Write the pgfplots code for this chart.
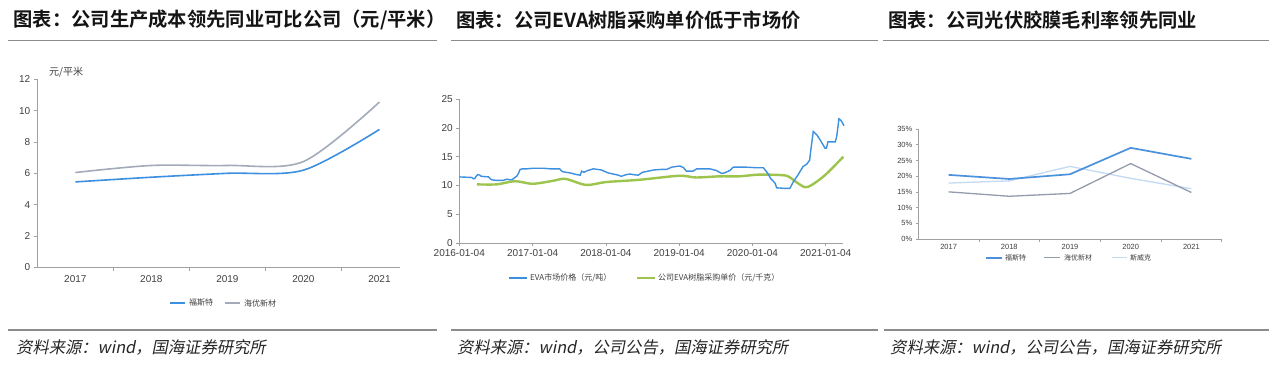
\documentclass[border=0pt]{standalone}
\usepackage{fontspec}
\usepackage{pgfplots}
\pgfplotsset{compat=1.18}
\setmainfont{Liberation Sans}
\newfontfamily\cjk{Noto Sans CJK SC}
\newfontfamily\cjkb{Noto Sans CJK SC Bold}
\newfontfamily\cjkit[FakeSlant=0.2]{Noto Sans CJK SC}
\definecolor{bl}{HTML}{3D8FE0}
\definecolor{gr}{HTML}{A3AABA}
\definecolor{grn}{HTML}{9DC44D}
\definecolor{bl3}{HTML}{4B91DC}
\definecolor{gr3}{HTML}{939CAD}
\definecolor{lb3}{HTML}{C3DAF2}
\definecolor{axc}{HTML}{A0A0A0}
\definecolor{txt}{HTML}{404040}
\definecolor{rule}{HTML}{8C8C8C}
\pgfplotsset{
  base/.style={
    scale only axis, clip=false,
    axis lines=left, axis line style={-, draw=axc, line width=0.6pt},
    tick style={draw=axc, line width=0.6pt},
    tick align=outside, major tick length=3pt,
    /pgf/number format/assume math mode=true,
    ticklabel style={text=txt},
    anchor=south west,
  }
}
\begin{document}
\begin{tikzpicture}[x=1pt,y=1pt]
\useasboundingbox (0pt,0pt) rectangle (1269pt,365pt);
\fill[white] (0pt,0pt) rectangle (1269pt,365pt);
% titles
\node[anchor=west,inner sep=0pt,font=\cjkb\fontsize{19.3}{21}\selectfont,text=black!92] at (13.3pt,345pt) {图表：公司生产成本领先同业可比公司（元/平米）};
\node[anchor=west,inner sep=0pt,font=\cjkb\fontsize{19.3}{21}\selectfont,text=black!92] at (456pt,345pt) {图表：公司EVA树脂采购单价低于市场价};
\node[anchor=west,inner sep=0pt,font=\cjkb\fontsize{19.3}{21}\selectfont,text=black!92] at (888pt,345pt) {图表：公司光伏胶膜毛利率领先同业};
\draw[rule,line width=1.3pt] (8pt,324.3pt) -- (437pt,324.3pt);
\draw[rule,line width=1.3pt] (451pt,324.3pt) -- (878pt,324.3pt);
\draw[rule,line width=1.3pt] (883pt,324.3pt) -- (1269pt,324.3pt);
% bottom rules and sources
\draw[rule,line width=1.8pt] (8pt,35pt) -- (437pt,35pt);
\draw[rule,line width=1.8pt] (451pt,35pt) -- (878pt,35pt);
\draw[rule,line width=1.8pt] (884pt,35pt) -- (1269pt,35pt);
\node[anchor=west,inner sep=0pt,font=\cjkit\fontsize{16.3}{18}\selectfont,text=black!85] at (16pt,18pt) {资料来源：wind，国海证券研究所};
\node[anchor=west,inner sep=0pt,font=\cjkit\fontsize{16.3}{18}\selectfont,text=black!85] at (457pt,18pt) {资料来源：wind，公司公告，国海证券研究所};
\node[anchor=west,inner sep=0pt,font=\cjkit\fontsize{16.3}{18}\selectfont,text=black!85] at (890pt,18pt) {资料来源：wind，公司公告，国海证券研究所};

% ---------- panel 1
\begin{axis}[base, at={(37.3pt,97.7pt)}, width=362.7pt, height=188pt,
  xmin=-0.5, xmax=4.27, ymin=0, ymax=12,
  ytick={0,2,...,12},
  xtick={0.5,1.5,2.5,3.5}, xticklabels={},
  major tick length=3.5pt,
  extra x ticks={0,1,2,3,4},
  extra x tick labels={2017,2018,2019,2020,2021},
  extra x tick style={major tick length=0pt, tick label style={yshift=-5pt}},
  ticklabel style={font=\fontsize{10}{12}\selectfont},
]
\addplot[bl, line width=1.6pt, smooth] coordinates {(0,5.45) (1,5.75) (2,6.0) (3,6.2) (4,8.8)};
\addplot[gr, line width=1.6pt, smooth] coordinates {(0,6.05) (1,6.5) (2,6.5) (3,6.75) (4,10.55)};
\end{axis}
\node[anchor=west,inner sep=0pt,font=\cjk\fontsize{10}{12}\selectfont,text=txt] at (49pt,293pt) {元/平米};
\draw[bl,line width=1.6pt] (170pt,62pt) -- (185pt,62pt);
\node[anchor=west,inner sep=0pt,font=\cjk\fontsize{8}{10}\selectfont,text=txt] at (189pt,62pt) {福斯特};
\draw[gr,line width=1.6pt] (225pt,62pt) -- (240pt,62pt);
\node[anchor=west,inner sep=0pt,font=\cjk\fontsize{8}{10}\selectfont,text=txt] at (244pt,62pt) {海优新材};

% ---------- panel 2
\begin{axis}[base, at={(459.3pt,122pt)}, width=384pt, height=143.7pt,
  xmin=0, xmax=5.24, ymin=0, ymax=25,
  ytick={0,5,...,25},
  xtick={0,1,2,3,4,5},
  xticklabels={2016-01-04,2017-01-04,2018-01-04,2019-01-04,2020-01-04,2021-01-04},
  ticklabel style={font=\fontsize{10}{12}\selectfont},
]
\addplot[grn, line width=2.4pt, smooth] coordinates {(0.24,10.2) (0.51,10.2) (0.76,10.75) (1.0,10.3) (1.27,10.8) (1.45,11.15) (1.73,10.1) (2.0,10.6) (2.46,11.0) (3.0,11.7) (3.23,11.4) (3.55,11.6) (3.82,11.6) (4.09,11.9) (4.41,11.8) (4.5,11.5) (4.62,10.4) (4.72,9.7) (4.81,10.1) (4.99,11.8) (5.24,15.0)};
\addplot[bl, line width=1.4pt] coordinates {(0.00,11.5) (0.17,11.4) (0.19,11.2) (0.21,11.2) (0.23,11.6) (0.25,11.9) (0.28,11.8) (0.30,11.6) (0.40,11.5) (0.42,11.2) (0.44,11.0) (0.50,10.9) (0.60,10.9) (0.65,11.1) (0.69,11.0) (0.72,11.0) (0.75,11.3) (0.79,11.7) (0.81,12.2) (0.83,12.8) (0.86,12.9) (0.92,12.9) (1.00,13.0) (1.15,13.0) (1.25,12.9) (1.37,12.9) (1.39,12.6) (1.41,12.4) (1.51,12.2) (1.60,11.9) (1.65,11.8) (1.67,12.5) (1.70,12.3) (1.75,12.6) (1.83,12.9) (1.94,12.7) (2.03,12.2) (2.10,12.0) (2.17,11.8) (2.21,11.6) (2.28,11.9) (2.33,12.0) (2.37,11.9) (2.44,11.8) (2.50,12.3) (2.65,12.7) (2.75,12.8) (2.83,12.8) (2.90,13.2) (3.01,13.4) (3.06,13.1) (3.10,12.5) (3.19,12.5) (3.24,12.9) (3.42,12.9) (3.51,12.6) (3.58,12.1) (3.62,12.2) (3.69,12.6) (3.74,13.2) (3.90,13.2) (4.05,13.1) (4.15,13.1) (4.21,12.1) (4.25,11.2) (4.31,10.4) (4.33,9.6) (4.45,9.5) (4.51,9.5) (4.56,10.7) (4.62,11.8) (4.69,13.3) (4.74,13.7) (4.78,14.4) (4.80,16.5) (4.83,19.4) (4.88,18.8) (4.94,17.6) (4.99,16.5) (5.01,16.5) (5.03,17.6) (5.13,17.6) (5.15,18.5) (5.18,21.6) (5.21,21.3) (5.25,20.4)};
\end{axis}
\draw[bl,line width=1.4pt] (509pt,87pt) -- (527pt,87pt);
\node[anchor=west,inner sep=0pt,font=\cjk\fontsize{8}{10}\selectfont,text=txt] at (530pt,87pt) {EVA市场价格（元/吨）};
\draw[grn,line width=2.4pt] (637pt,87pt) -- (655pt,87pt);
\node[anchor=west,inner sep=0pt,font=\cjk\fontsize{8}{10}\selectfont,text=txt] at (658pt,87pt) {公司EVA树脂采购单价（元/千克）};

% ---------- panel 3
\begin{axis}[base, at={(918.3pt,126pt)}, width=303.4pt, height=110pt,
  xmin=-0.5, xmax=4.5, ymin=0, ymax=35,
  ytick={0,5,...,35},
  yticklabels={0\%,5\%,10\%,15\%,20\%,25\%,30\%,35\%},
  xtick={0.5,1.5,2.5,3.5,4.5}, xticklabels={},
  major tick length=2.5pt,
  extra x ticks={0,1,2,3,4},
  extra x tick labels={2017,2018,2019,2020,2021},
  extra x tick style={major tick length=0pt, tick label style={yshift=-2pt}},
  ticklabel style={font=\fontsize{7.5}{9}\selectfont},
]
\addplot[lb3, line width=1.3pt] coordinates {(0,17.8) (1,18.5) (2,23.1) (3,19.3) (4,16.0)};
\addplot[gr3, line width=1.3pt] coordinates {(0,15.0) (1,13.6) (2,14.5) (3,24.0) (4,14.8)};
\addplot[bl3, line width=1.7pt] coordinates {(0,20.4) (1,19.1) (2,20.6) (3,29.0) (4,25.5)};
\end{axis}
\draw[bl3,line width=1.7pt] (986pt,107.3pt) -- (1002pt,107.3pt);
\node[anchor=west,inner sep=0pt,font=\cjk\fontsize{7}{9}\selectfont,text=txt] at (1005pt,107.3pt) {福斯特};
\draw[gr3,line width=1.3pt] (1044pt,107.3pt) -- (1060pt,107.3pt);
\node[anchor=west,inner sep=0pt,font=\cjk\fontsize{7}{9}\selectfont,text=txt] at (1064pt,107.3pt) {海优新材};
\draw[lb3,line width=1.3pt] (1112pt,107.3pt) -- (1127pt,107.3pt);
\node[anchor=west,inner sep=0pt,font=\cjk\fontsize{7}{9}\selectfont,text=txt] at (1130pt,107.3pt) {斯威克};
\end{tikzpicture}
\end{document}
